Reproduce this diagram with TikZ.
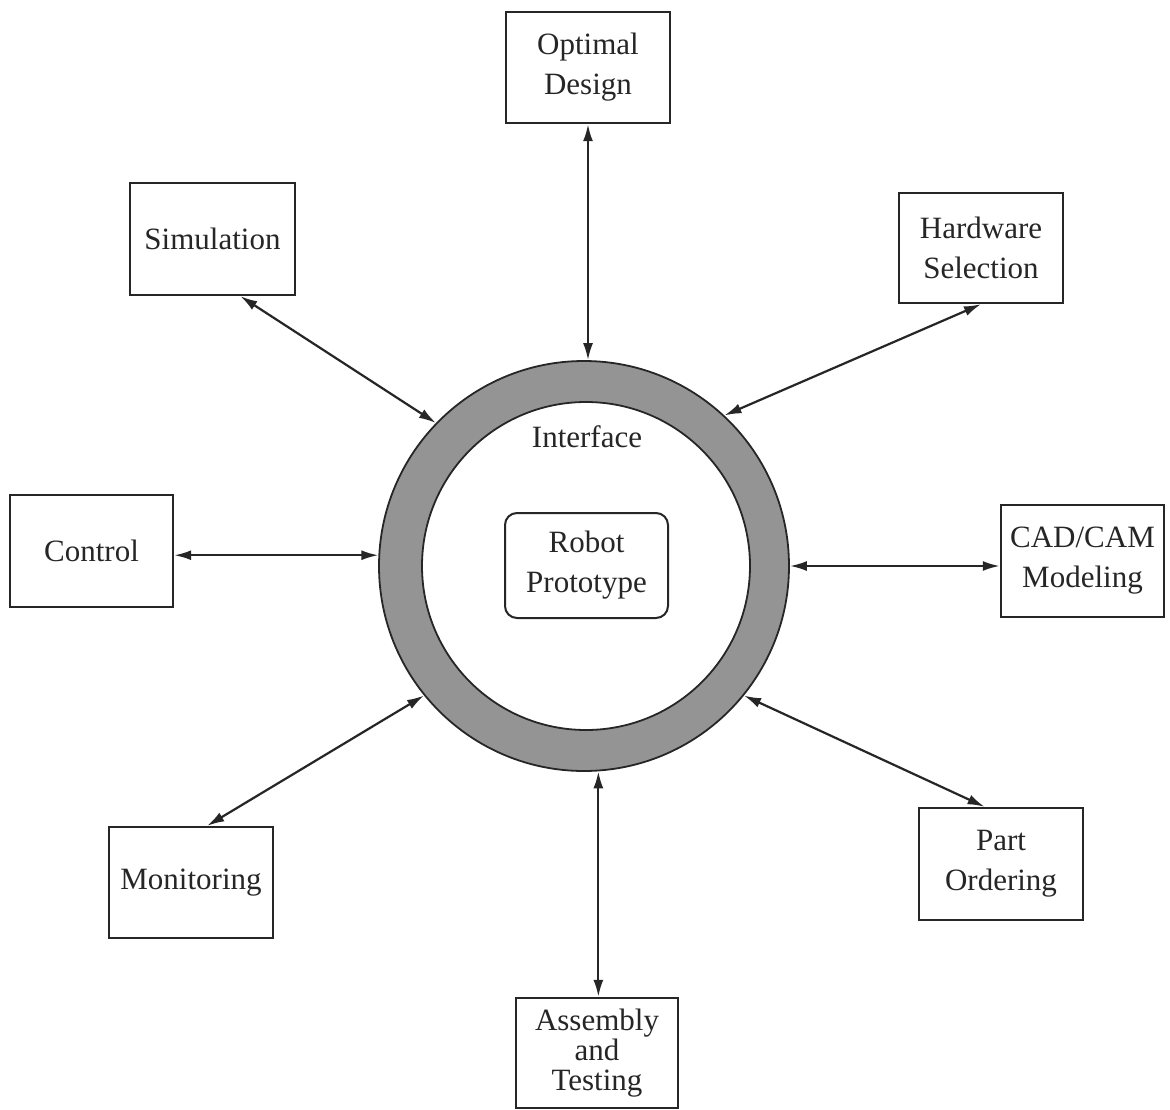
\documentclass[tikz,border=0pt]{standalone}
\usepackage{fontspec}
\setmainfont{Liberation Serif}
\usetikzlibrary{arrows.meta}
\definecolor{ringgray}{gray}{0.58}
\tikzset{
  lbl/.style={font=\fontsize{31}{40}\selectfont, align=center, text=black!85},
  box/.style={lbl, draw=black!85, line width=2.4pt, rectangle, inner sep=0pt},
  link/.style={draw=black!85, line width=2.2pt, {Latex[length=17pt,width=10pt]}-{Latex[length=17pt,width=10pt]}},
}
\begin{document}
\begin{tikzpicture}[x=1pt,y=-1pt]
\useasboundingbox[fill=white] (0,0) rectangle (1170,1110);
% ring
\node[circle, draw=black!85, line width=1.8pt, fill=ringgray, minimum size=410pt, inner sep=0pt] (ring) at (584,566) {};
\node[circle, draw=black!85, line width=1.8pt, fill=white, minimum size=328pt, inner sep=0pt] (inner) at (586,566) {};
\node[lbl] (iface) at (587,437) {Interface};
\node[box, line width=2pt, rounded corners=12pt, minimum width=163pt, minimum height=105pt] (robot) at (586.5,565.5) {Robot\\Prototype};
% boxes
\node[box, minimum width=164pt, minimum height=111pt] (opt) at (588,67.5) {Optimal\\Design};
\node[box, minimum width=165pt, minimum height=112pt] (sim) at (212.5,239) {Simulation};
\node[box, minimum width=164pt, minimum height=110pt] (hw) at (981,248) {Hardware\\Selection};
\node[box, minimum width=163pt, minimum height=112pt] (ctrl) at (91.5,551) {Control};
\node[box, minimum width=163pt, minimum height=112pt] (cad) at (1082.5,561) {CAD/CAM\\Modeling};
\node[box, minimum width=164pt, minimum height=111pt] (mon) at (191,882.5) {Monitoring};
\node[box, minimum width=164pt, minimum height=112pt] (part) at (1001,864) {Part\\Ordering};
\node[box, font=\fontsize{31}{30}\selectfont, minimum width=162pt, minimum height=110pt] (asm) at (597,1053) {Assembly\\and\\Testing};
% connectors
\draw[link] (opt.south) -- (opt.south |- ring.north);
\draw[link] (sim.-64) -- (ring.136.6);
\draw[link] (hw.south) -- (ring.47);
\draw[link] (ring.177.5 -| ctrl.east) -- (ring.177.5);
\draw[link] (ring.east) -- (ring.east -| cad.west);
\draw[link] (mon.74) -- (ring.219.5);
\draw[link] (ring.-39) -- (part.106);
\draw[link] (ring.-86.4) -- (ring.-86.4 |- asm.north);
\end{tikzpicture}
\end{document}
